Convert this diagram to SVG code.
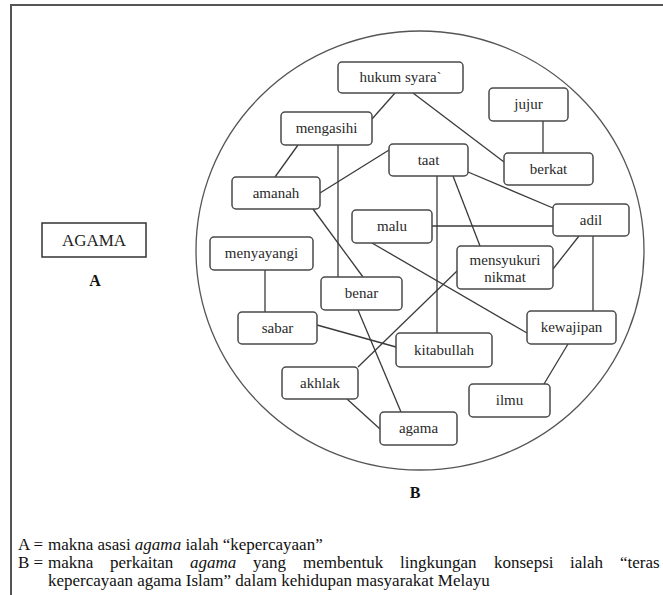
<svg xmlns="http://www.w3.org/2000/svg" width="663" height="595" viewBox="0 0 663 595">
<style>
.n rect{fill:#fff;stroke:#4a4a4a;stroke-width:1.5}
.n text{font-family:"Liberation Serif","Times New Roman","DejaVu Serif",serif;font-size:15px;fill:#2a2a2a;text-anchor:middle}
#connectors line{stroke:#3a3a3a;stroke-width:1.3}
.lg{font-family:"Liberation Serif","Times New Roman","DejaVu Serif",serif;font-size:17px;fill:#111}
.lbl{font-family:"Liberation Serif","Times New Roman","DejaVu Serif",serif;font-size:16px;font-weight:bold;fill:#111;text-anchor:middle}
.ag{font-family:"Liberation Serif","Times New Roman","DejaVu Serif",serif;font-size:17px;fill:#222;text-anchor:middle}
</style>
<rect width="663" height="595" fill="#fff"/>
<path d="M663,5 H11 V595" fill="none" stroke="#555" stroke-width="2"/>
<ellipse cx="420" cy="250.5" rx="224" ry="219.5" fill="none" stroke="#555" stroke-width="1.3"/>
<g id="connectors">
<line x1="395" y1="93" x2="372" y2="119"/>
<line x1="413" y1="93" x2="504" y2="162"/>
<line x1="543" y1="121" x2="543" y2="153"/>
<line x1="298" y1="145" x2="275" y2="177"/>
<line x1="338" y1="145" x2="338" y2="277"/>
<line x1="389" y1="150" x2="320" y2="193"/>
<line x1="437" y1="176" x2="437" y2="333"/>
<line x1="453" y1="176" x2="480" y2="246"/>
<line x1="468" y1="172" x2="553" y2="208"/>
<line x1="432" y1="226" x2="553" y2="226"/>
<line x1="579" y1="236" x2="553" y2="269"/>
<line x1="593" y1="236" x2="593" y2="311"/>
<line x1="372" y1="243" x2="527" y2="333"/>
<line x1="313" y1="209" x2="363" y2="277"/>
<line x1="265" y1="270" x2="265" y2="312"/>
<line x1="317" y1="325" x2="396" y2="347"/>
<line x1="358" y1="310" x2="401" y2="412"/>
<line x1="358" y1="367" x2="457" y2="271"/>
<line x1="347" y1="399" x2="380" y2="429"/>
<line x1="568" y1="344" x2="544" y2="384"/>
</g>
<g id="hukum" class="n"><rect x="338" y="62" width="125" height="31" rx="4"/><text x="400.5" y="82">hukum syara`</text></g>
<g id="mengasihi" class="n"><rect x="281" y="112" width="91" height="33" rx="4"/><text x="326.5" y="133">mengasihi</text></g>
<g id="taat" class="n"><rect x="389" y="144" width="79" height="32" rx="4"/><text x="428.5" y="165">taat</text></g>
<g id="amanah" class="n"><rect x="232" y="177" width="88" height="32" rx="4"/><text x="276" y="198">amanah</text></g>
<g id="jujur" class="n"><rect x="489" y="88" width="79" height="33" rx="4"/><text x="528.5" y="109">jujur</text></g>
<g id="berkat" class="n"><rect x="504" y="153" width="89" height="32" rx="4"/><text x="548.5" y="174">berkat</text></g>
<g id="adil" class="n"><rect x="553" y="204" width="76" height="32" rx="4"/><text x="591" y="225">adil</text></g>
<g id="malu" class="n"><rect x="352" y="210" width="80" height="33" rx="4"/><text x="392" y="231">malu</text></g>
<g id="menyayangi" class="n"><rect x="210" y="237" width="103" height="33" rx="4"/><text x="261.5" y="258">menyayangi</text></g>
<g id="benar" class="n"><rect x="321" y="277" width="81" height="33" rx="4"/><text x="361.5" y="298">benar</text></g>
<g id="mensyukuri" class="n"><rect x="457" y="246" width="96" height="43" rx="4"/><text x="505" y="265">mensyukuri</text><text x="505" y="282">nikmat</text></g>
<g id="sabar" class="n"><rect x="238" y="312" width="79" height="32" rx="4"/><text x="277.5" y="333">sabar</text></g>
<g id="kewajipan" class="n"><rect x="527" y="311" width="89" height="33" rx="4"/><text x="571.5" y="332">kewajipan</text></g>
<g id="kitabullah" class="n"><rect x="396" y="333" width="96" height="34" rx="4"/><text x="444" y="355">kitabullah</text></g>
<g id="akhlak" class="n"><rect x="282" y="367" width="76" height="32" rx="4"/><text x="320" y="388">akhlak</text></g>
<g id="ilmu" class="n"><rect x="469" y="384" width="81" height="33" rx="4"/><text x="509.5" y="405">ilmu</text></g>
<g id="agama" class="n"><rect x="380" y="412" width="77" height="33" rx="4"/><text x="418.5" y="433">agama</text></g>
<g id="agamaA">
<rect x="42" y="223" width="104" height="34" fill="#fff" stroke="#333" stroke-width="1.5"/>
<text class="ag" x="94" y="246">AGAMA</text>
</g>
<text class="lbl" x="95" y="286">A</text>
<text class="lbl" x="415" y="498">B</text>
<g id="legend">
<text class="lg" x="18" y="550">A =</text>
<text class="lg" x="48" y="550">makna asasi <tspan font-style="italic">agama</tspan> ialah  “kepercayaan”</text>
<text class="lg" x="18" y="568">B =</text>
<text class="lg" y="568"><tspan x="48">makna</tspan><tspan x="110">perkaitan</tspan><tspan x="190" font-style="italic">agama</tspan><tspan x="253">yang</tspan><tspan x="303">membentuk</tspan><tspan x="400">lingkungan</tspan><tspan x="494">konsepsi</tspan><tspan x="570">ialah</tspan><tspan x="620">“teras</tspan></text>
<text class="lg" x="48" y="586">kepercayaan agama Islam” dalam kehidupan masyarakat Melayu</text>
</g>
</svg>
